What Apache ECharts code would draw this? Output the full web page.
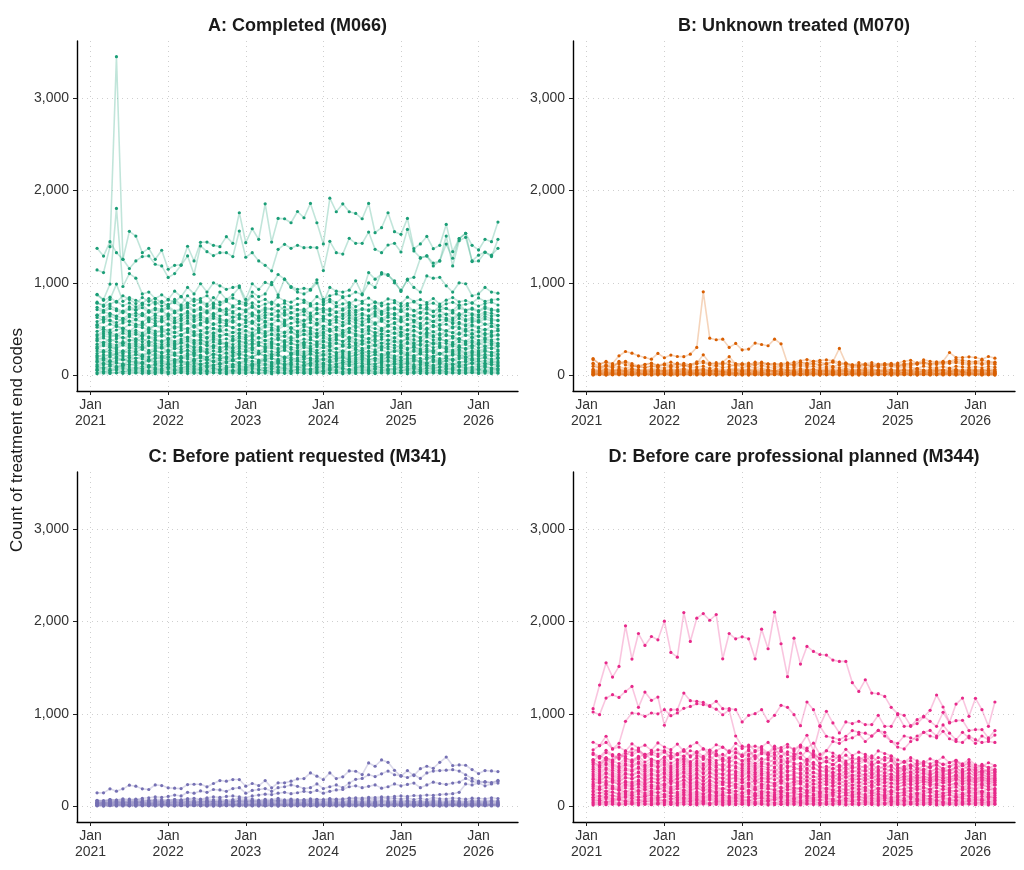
<!DOCTYPE html>
<html><head><meta charset="utf-8">
<script src="https://cdn.jsdelivr.net/npm/echarts@6/dist/echarts.min.js"></script>
<style>html,body{margin:0;padding:0;background:#fff}#c{width:1024px;height:870px}</style>
</head><body><div id="c"></div>
<script>
// ---- categories / ticks ----
const FIRST_MONTH = '2021-02';
const N_MONTHS = 63;
const X_TICKS = [0, 12, 24, 36, 48, 60];               // months since Jan 2021
const X_TICK_LABELS = ['Jan\n2021', 'Jan\n2022', 'Jan\n2023', 'Jan\n2024', 'Jan\n2025', 'Jan\n2026'];
const Y_TICKS = [0, 1000, 2000, 3000];
const PANEL_TITLES = ['A: Completed (M066)', 'B: Unknown treated (M070)', 'C: Before patient requested (M341)', 'D: Before care professional planned (M344)'];
const PANEL_COLORS = ['#1B9E77', '#D95F02', '#7570B3', '#E7298A'];
const Y_TITLE = 'Count of treatment end codes';

// ---- Panel A: Completed (M066) ----
const A_top1 = [1374,1290,1446,1327,1255,1558,1507,1327,1374,1255,1353, 1147,1190,1195,1396,1237,1439,1442,1406,1392,1500,1428,1759, 1435,1586,1471,1856,1442,1698,1694,1651,1773,1705,1860,1651, 1421,1917,1770,1856,1770,1752,1694,1860,1543,1597,1759,1554, 1525,1698,1370,1421,1503,1370,1406,1633,1338,1478,1536,1406, 1356,1471,1446,1658];
const A_top2 = [1140,1111,1392,3450,1255,1155,1237,1284,1291,1201,1183, 1058,1100,1190,1291,1093,1400,1338,1295,1327,1327,1284,1561, 1277,1327,1237,1190,1130,1363,1417,1374,1406,1381,1385,1381, 1133,1450,1327,1312,1482,1428,1428,1550,1363,1327,1410,1428, 1334,1579,1345,1273,1291,1183,1237,1507,1183,1456,1493,1237, 1300,1334,1284,1471];
const A_top3 = [874,820,986,1806,960,1100,1050,880,900,830,870, 820,910,850,950,880,990,900,1000,968,930,950,968, 820,990,930,1004,980,1090,1040,960,930,940,930,1032, 788,950,910,900,920,1022,880,1111,1040,1095,1080,1022, 906,1040,1060,1266,1291,1215,1237,1420,1266,1478,1536,1230, 1237,1330,1300,1374];
const A_top4 = [780,760,820,986,800,840,810,780,830,770,800, 750,820,760,860,800,830,860,780,900,820,870,950, 780,900,850,880,1004,870,1040,950,900,880,920,1000, 820,860,880,850,860,900,870,1000,950,1110,1090,1000, 920,1030,950,900,1075,1050,1060,968,900,1000,990,860, 880,950,900,888];
const A_b01 = [15,22,18,25,20,17,23,19,21,16,24, 14,20,26,18,22,19,17,25,21,15,23,20, 18,27,19,22,16,24,20,18,25,21,17,23, 19,20,26,15,22,18,24,20,17,23,21,19, 25,16,22,20,18,24,21,17,23,19,20,26, 18,22,17,21];
const A_b02 = [52,40,47,55,38,49,44,50,41,46,53, 39,48,45,57,42,51,40,47,54,43,49,46, 55,41,48,52,39,46,50,44,57,40,49,45, 42,53,47,40,56,44,49,51,38,47,52,45, 48,55,41,46,50,43,57,40,48,53,44,47, 51,42,46,54];
const A_b03 = [70,81,66,77,88,64,79,72,85,68,74, 83,65,76,90,71,67,82,75,63,78,86,69, 73,87,62,80,71,84,66,77,89,70,64,81, 76,68,85,72,63,79,88,67,74,82,70,65, 86,73,78,64,80,69,84,75,66,87,71,77, 63,82,74,68];
const A_b04 = [98,112,120,95,108,117,101,125,93,110,104, 118,96,107,123,100,114,92,109,121,99,113,105, 94,119,106,111,97,126,103,115,91,108,122,100, 116,102,95,113,124,98,107,119,93,110,105,117, 101,123,96,112,108,92,120,104,115,99,111,125, 97,109,118,103];
const A_b05 = [142,128,150,133,121,147,138,126,155,131,144, 124,139,152,130,145,120,136,149,127,141,158,132, 146,123,137,154,129,143,119,140,151,134,125,148, 131,156,122,138,145,127,153,135,120,142,149,129, 137,124,151,140,128,146,133,157,121,139,144,130, 152,126,141,136];
const A_b06 = [165,182,158,190,172,160,185,176,153,179,194, 168,150,187,174,162,196,170,155,183,177,161,189, 173,192,157,166,184,152,178,191,164,171,186,159, 180,163,175,197,154,169,188,167,181,156,193,172, 160,185,176,151,190,171,162,183,158,178,195,166, 174,187,155,180];
const A_b07 = [212,195,228,201,218,190,224,207,197,232,210, 199,221,187,215,230,204,193,226,211,189,219,236, 206,194,229,213,200,223,188,217,234,202,225,196, 214,231,198,209,186,227,216,203,222,191,235,208, 197,220,212,233,190,205,228,199,217,241,195,211, 224,203,218,192];
const A_b08 = [233,258,245,226,262,239,251,221,248,266,236, 254,229,243,270,231,257,246,224,260,238,249,227, 265,242,232,255,220,247,268,237,250,228,259,244, 222,264,240,253,230,246,269,234,256,225,241,261, 248,223,258,236,267,243,229,252,238,263,226,249, 235,257,244,230];
const A_b09 = [288,265,301,274,259,295,282,310,268,286,299, 262,291,278,305,270,284,257,297,280,312,266,289, 276,303,261,287,294,271,308,279,264,298,285,269, 300,275,290,258,306,281,267,296,273,309,284,263, 292,277,302,268,288,256,299,283,271,304,279,293, 266,286,297,275];
const A_b10 = [310,338,325,302,346,318,331,299,341,322,308, 335,314,350,327,305,339,320,312,344,329,300,336, 316,345,323,309,337,328,303,348,319,332,311,340, 326,306,343,321,334,298,347,315,330,310,339,324, 301,342,318,336,313,349,327,305,338,320,333,308, 344,317,329,312];
const A_b11 = [372,350,389,361,344,380,367,395,352,376,358, 384,346,370,392,355,378,349,386,364,341,381,369, 357,390,347,374,362,398,351,377,366,343,387,359, 372,348,383,365,394,353,371,356,389,345,379,368, 360,391,349,375,363,342,386,370,354,396,358,373, 350,382,367,346];
const A_b12 = [398,425,412,437,401,420,392,431,415,406,440, 395,418,428,404,436,411,399,427,416,442,393,422, 409,434,400,419,438,405,426,397,414,445,408,421, 430,396,417,439,403,424,410,391,433,412,427,402, 441,407,423,398,435,414,400,429,418,393,437,409, 425,404,419,432];
const A_b13 = [440,471,458,436,482,449,462,430,475,453,488, 445,466,437,479,460,432,470,451,484,441,463,455, 478,434,468,450,487,443,459,472,438,481,454,446, 467,490,435,457,474,448,429,483,461,442,476,452, 464,439,485,456,447,470,433,478,459,444,489,450, 473,437,462,480];
const A_b14 = [520,497,488,531,509,476,524,515,492,538,503, 486,527,511,499,534,480,518,506,494,540,512,489, 529,501,483,522,516,495,537,507,478,525,513,491, 532,498,519,485,508,536,493,521,504,482,530,514, 500,487,526,510,494,539,505,481,523,517,496,533, 509,488,528,502];
const A_b15 = [548,575,590,541,566,583,552,537,579,561,595, 544,570,556,588,535,563,581,549,572,558,592,540, 567,585,546,574,553,596,538,562,580,550,569,543, 587,557,573,539,591,564,547,578,555,584,542,568, 589,551,576,536,565,582,548,593,559,571,545,577, 586,552,563,540];
const A_b16 = [625,598,640,612,587,633,605,650,595,620,608, 636,590,615,645,602,628,593,638,610,584,630,618, 600,642,589,624,611,652,596,621,607,586,639,604, 617,592,634,613,648,599,616,603,641,588,627,614, 606,644,591,623,609,583,637,619,597,651,601,622, 594,635,612,589];
const A_b17 = [650,682,668,640,695,657,671,645,688,662,700, 648,676,655,690,642,669,684,651,698,660,673,646, 686,658,641,680,665,697,650,674,659,692,644,670, 683,649,678,661,699,654,667,643,689,657,675,652, 694,663,646,681,668,640,696,659,672,648,687,664, 653,684,670,645];
const A_b18 = [735,702,748,718,690,740,711,760,698,725,712, 745,695,720,755,705,733,697,750,714,688,738,722, 706,752,693,729,716,762,700,727,713,691,749,708, 724,696,741,719,758,703,721,707,747,692,731,717, 710,754,695,728,714,687,744,723,701,761,705,726, 698,742,716,692];
const A_b19 = [870,810,845,790,860,820,775,840,800,830,785, 815,795,850,780,825,805,770,840,790,810,835,800, 780,855,795,820,770,845,805,790,830,812,776,850, 798,820,785,840,772,815,800,835,790,780,826,808, 775,845,800,818,786,830,770,812,840,795,808,782, 836,800,815,822];
const A_c01 = [28,35,31,26,38,33,29,36,24,32,37, 30,27,34,39,25,31,36,28,33,26,38,30, 35,29,24,33,37,31,27,36,32,25,34,30, 38,28,33,26,35,31,29,37,24,32,36,27, 30,34,25,38,31,28,35,33,26,37,29,32, 27,36,31,34];
const A_c02 = [58,66,53,62,70,55,61,68,50,64,59, 67,52,60,71,57,63,54,69,58,65,51,62, 56,68,61,49,66,59,72,54,63,57,67,60, 52,65,58,70,55,62,68,51,64,57,61,69, 53,60,66,56,71,58,50,63,67,55,62,59, 65,54,61,68];
const A_c03 = [92,80,97,85,103,88,78,95,90,82,100, 86,94,79,98,91,84,105,87,93,81,96,89, 83,101,88,77,94,92,86,99,80,90,104,85, 97,82,91,88,102,79,95,87,93,84,98,90, 81,96,89,85,103,78,92,94,86,100,83,91, 88,97,80,95];
const A_c04 = [115,126,109,131,120,112,124,134,106,119,128, 113,122,137,110,125,117,130,108,121,133,114,127, 118,105,129,123,111,135,116,124,120,107,132,119, 126,112,118,136,109,123,129,115,121,131,110,125, 117,134,113,120,127,108,130,122,116,124,111,133, 119,128,114,121];
const A_c05 = [148,160,141,155,168,145,152,139,163,150,157, 143,166,149,138,158,153,170,144,161,147,155,136, 162,151,145,169,140,156,148,164,152,142,159,146, 167,139,154,160,143,150,171,147,158,141,163,149, 156,144,165,152,137,160,146,155,168,142,151,162, 148,157,140,153];
const A_c06 = [185,172,196,178,164,190,182,199,170,187,176, 193,167,181,198,174,186,165,192,179,200,171,184, 177,195,163,188,180,173,197,169,185,191,175,182, 166,194,179,187,172,189,201,168,183,176,196,174, 188,165,192,181,170,197,178,186,173,199,167,184, 180,191,175,186];
const A_c07 = [200,220,208,232,196,215,224,205,238,211,199, 226,214,203,235,209,218,194,229,212,240,202,221, 216,198,233,207,225,213,190,230,219,204,236,210, 223,197,217,231,206,214,242,201,227,209,219,195, 234,212,203,228,218,199,237,208,222,214,196,231, 205,226,211,220];
const A_c08 = [262,245,270,251,238,266,257,279,242,260,249, 273,240,255,268,247,276,236,263,252,281,244,259, 250,274,239,265,256,246,282,241,261,253,271,237, 258,269,243,264,250,277,238,260,248,272,245,257, 266,240,275,253,247,269,235,261,256,280,242,263, 251,268,246,259];
const A_c09 = [295,318,304,287,325,299,312,283,320,306,292, 315,288,309,327,296,303,281,322,300,314,290,311, 305,284,323,297,316,289,330,302,294,319,286,308, 298,321,285,313,301,326,290,307,317,282,310,295, 320,293,306,284,328,299,312,288,315,303,291,324, 297,309,286,318];
const A_c10 = [335,356,342,326,362,338,350,330,365,345,332, 358,328,347,368,336,353,322,360,340,349,331,363, 344,327,359,337,352,333,370,341,329,355,346,324, 361,338,351,330,366,343,334,357,325,348,339,364, 332,354,341,323,367,336,350,345,328,362,340,353, 331,358,344,337];
const A_c11 = [380,402,368,395,410,375,389,362,404,383,371, 398,366,391,412,378,386,360,407,381,393,370,400, 387,364,409,376,396,382,372,414,369,390,384,361, 403,377,392,367,411,385,374,399,363,388,379,406, 371,397,384,365,413,380,392,373,401,386,368,408, 376,394,383,390];
const A_c12 = [425,448,437,415,455,430,442,418,460,433,421, 450,412,438,463,427,445,409,458,431,440,420,452, 436,414,461,426,447,432,419,465,424,439,444,411, 456,429,441,416,462,435,423,451,413,446,428,459, 422,443,434,410,464,427,449,438,417,457,430,444, 420,453,433,440];
const A_c13 = [475,498,463,489,505,470,484,456,501,478,466, 493,459,486,508,472,481,455,503,476,490,462,497, 483,458,506,471,494,479,465,510,467,487,480,452, 500,474,488,461,507,482,468,495,457,485,473,502, 464,492,477,454,509,470,491,481,460,504,475,489, 466,497,478,484];
const A_c14 = [540,515,552,528,507,546,533,560,512,538,524, 555,509,536,562,520,544,505,558,530,541,517,550, 527,563,510,539,548,522,565,514,535,543,506,557, 529,549,518,534,561,513,542,526,553,508,537,559, 519,545,531,504,564,525,540,551,511,556,532,546, 521,553,530,538];
const A_c15 = [580,605,596,570,612,585,598,575,618,590,578, 608,565,593,620,582,600,568,615,588,597,574,610, 592,567,617,584,603,589,576,622,571,595,601,563, 613,586,599,572,619,591,579,607,566,602,583,616, 577,604,594,562,621,581,598,606,570,614,587,600, 573,609,590,596];
const A_c16 = [650,625,662,638,615,655,642,670,620,648,632, 665,618,645,672,630,652,612,668,640,657,628,660, 636,675,622,649,658,633,678,617,646,654,613,667, 639,659,626,644,673,621,651,637,664,614,647,669, 629,656,641,611,676,634,650,661,619,666,643,654, 627,663,640,648];
const A_c17 = [710,685,722,698,676,715,702,730,680,708,692, 725,678,705,732,690,712,673,728,700,717,688,720, 696,735,682,709,718,693,738,677,706,714,672,727, 699,719,686,704,733,681,711,697,724,674,707,729, 689,716,701,671,736,694,710,721,679,726,703,714, 687,723,700,708];
const A_c18 = [790,745,770,800,752,782,740,775,760,795,748, 768,785,742,778,756,790,746,772,762,798,750,776, 758,784,744,770,792,752,780,741,766,788,755,774, 762,796,748,772,786,743,778,759,790,751,769,784, 745,775,793,757,766,780,742,773,789,754,768,781, 748,776,790,760];

// ---- Panel B: Unknown treated (M070) ----
const B_top1 = [180,119,148,126,209,256,238,209,191,173,235, 188,217,202,200,227,300,902,400,383,390,300,343, 274,282,347,332,318,390,339,126,140,155,168,150, 160,165,155,140,120,100,135,110,90,120,125,110, 130,150,160,130,165,150,145,150,245,191,191,198, 191,173,202,184];
const B_top2 = [120,70,95,80,150,110,105,90,85,100,95, 110,90,120,105,115,130,220,130,120,140,200,120, 125,110,140,130,120,125,110,105,120,140,130,150, 140,125,145,289,130,110,105,120,95,100,110,105, 100,115,130,120,140,125,135,140,150,170,160,150, 145,160,150,140];
const B_b1 = [2,4,1,3,5,2,3,1,4,2,3, 5,2,1,3,4,2,3,5,1,2,4,3, 2,1,4,3,2,5,3,1,2,4,3,2, 1,3,5,2,4,2,1,3,2,4,3,1, 2,4,3,1,5,2,3,2,4,1,3,2, 4,2,3,1];
const B_b2 = [9,12,8,11,14,10,7,13,9,11,15, 8,10,12,9,14,11,7,13,10,8,12,16, 10,9,13,11,8,12,14,9,10,7,13,11, 12,8,10,15,9,11,13,8,10,12,9,14, 11,7,12,10,13,9,11,8,14,10,12,9, 13,10,8,11];
const B_b3 = [22,17,25,19,21,15,24,20,18,26,21, 19,23,16,22,27,18,20,24,17,21,25,19, 23,18,20,26,15,22,19,24,21,17,25,20, 18,23,21,16,24,20,22,19,26,17,21,23, 20,25,18,22,16,24,21,19,23,17,26,20, 22,18,24,21];
const B_b4 = [35,28,40,30,33,26,38,31,29,42,34, 27,36,32,39,30,25,37,33,41,28,35,31, 38,29,34,27,40,32,36,30,26,39,33,35, 31,37,28,34,41,30,33,27,36,32,38,29, 35,31,26,37,33,30,40,28,34,36,29,32, 38,31,35,28];
const B_b5 = [48,40,55,44,51,38,57,46,42,53,49, 41,50,45,58,39,47,54,43,52,37,49,56, 44,51,40,48,55,42,46,53,39,50,45,57, 43,49,41,54,46,38,52,47,44,56,40,50, 45,53,42,48,39,51,46,55,43,49,41,52, 47,44,50,42];
const B_b6 = [65,55,72,58,68,52,75,61,57,70,63, 54,66,60,74,56,62,69,53,71,59,64,76, 58,67,55,73,61,50,68,63,57,72,60,66, 54,70,62,58,75,56,64,60,69,52,67,61, 57,65,59,72,54,63,68,56,71,60,58,66, 62,55,69,60];
const B_b7 = [95,78,105,85,90,72,100,88,80,96,84, 76,92,86,110,79,88,97,74,102,83,90,115, 81,94,77,98,87,71,93,85,80,99,88,95, 76,91,84,79,98,82,87,75,93,86,80,96, 78,90,83,74,97,85,81,92,77,95,88,84, 90,79,94,86];
const B_b8 = [170,120,140,110,135,150,125,100,118,130,108, 122,140,115,128,110,145,150,120,135,112,148,125, 118,130,105,140,122,115,126,132,110,138,120,128, 115,125,140,118,130,112,108,122,135,115,120,128, 110,125,118,132,140,120,128,135,142,150,138,130, 145,128,140,132];
const B_c1 = [5,7,4,8,6,3,7,5,9,4,6, 8,5,3,7,6,9,4,6,8,5,7,3, 6,8,4,7,5,9,6,3,7,5,8,4, 6,9,5,3,7,6,8,4,5,7,6,9, 3,6,8,5,7,4,6,9,5,7,3,8, 6,5,7,4];
const B_c2 = [14,17,12,16,19,13,15,18,11,16,14, 18,13,15,20,12,17,14,16,19,13,15,17, 12,18,14,16,13,19,15,11,17,14,16,18, 13,15,19,12,17,14,16,13,18,15,12,17, 14,19,13,16,15,12,18,14,17,13,16,19, 15,13,17,14];
const B_c3 = [25,29,22,27,31,24,26,30,21,28,25, 30,23,27,32,24,29,22,28,26,31,23,27, 25,30,22,28,26,33,24,27,29,21,30,25, 28,24,31,26,23,29,27,32,22,28,25,30, 24,27,31,23,29,26,22,30,25,28,32,24, 27,29,23,26];
const B_c4 = [38,44,35,41,47,36,40,45,33,42,39, 46,34,40,48,37,43,35,45,39,41,36,47, 38,44,33,42,40,49,36,43,38,34,46,41, 37,45,39,35,48,40,42,36,44,38,47,34, 41,39,46,37,43,35,49,40,38,45,42,36, 44,39,47,40];
const B_c5 = [55,48,60,50,57,46,62,53,49,58,51, 47,56,52,63,48,54,59,50,57,45,55,61, 51,58,47,56,53,44,60,52,49,57,54,62, 48,55,50,46,61,53,57,51,59,47,54,58, 50,56,49,63,52,48,58,54,51,60,46,55, 53,59,50,56];
const B_c6 = [130,95,110,100,120,140,105,90,112,125,98, 118,108,130,102,96,122,135,110,104,128,115,100, 112,95,124,106,118,92,110,126,100,114,108,120, 102,118,96,110,124,98,92,106,115,100,108,118, 95,108,102,120,125,110,115,122,128,135,120,112, 128,115,122,118];

// ---- Panel C: Before patient requested (M341) ----
const C_top1 = [144,144,187,162,187,227,216,187,180,230,223, 198,194,190,234,237,237,209,245,277,270,288,288, 216,245,223,277,198,252,252,270,295,299,360,324, 288,360,299,317,381,378,342,468,432,500,475,388, 324,385,331,406,432,410,475,532,439,446,443,396, 353,385,381,374];
const C_top2 = [60,55,70,65,80,75,70,85,90,100,95, 105,120,110,150,140,165,150,180,175,160,190,200, 140,170,180,190,160,200,210,230,215,190,200,240, 190,210,230,200,250,290,300,340,320,350,380,340, 330,310,340,300,360,380,385,390,395,380,340,300, 270,260,250,280];
const C_top3 = [40,35,45,50,42,55,48,52,60,58,50, 62,70,65,80,85,75,90,100,95,105,110,100, 90,110,120,130,125,140,150,135,145,160,150,170, 140,160,175,180,210,220,200,215,230,195,210,240, 220,235,250,200,230,260,245,235,250,260,300,270, 250,220,240,250];
const C_top4 = [30,35,28,40,32,38,35,42,30,36,40, 38,45,40,48,42,50,46,52,48,55,50,58, 52,60,55,62,58,65,60,68,62,70,66,72, 68,75,70,80,85,90,88,95,92,100,98,105, 110,105,115,112,120,118,125,130,135,150,240,230, 250,265,255,270];
const C_b1 = [3,1,4,2,2,5,1,3,4,2,1, 3,2,5,1,4,3,2,1,3,4,2,5, 1,3,2,4,3,1,5,2,3,2,4,1, 3,5,2,1,4,2,3,3,1,4,2,5, 3,1,2,4,3,5,1,2,4,3,2,1, 3,4,2,3];
const C_b2 = [8,11,7,10,13,9,12,8,10,14,9, 11,7,12,10,9,13,8,11,10,12,7,14, 9,10,12,8,13,11,9,10,7,12,11,8, 13,10,9,12,8,11,14,9,10,7,12,11, 10,8,13,9,11,12,7,10,14,9,11,8, 12,10,9,11];
const C_b3 = [17,14,20,15,18,13,21,16,19,15,22, 14,18,17,20,13,19,16,21,15,18,14,20, 17,16,19,13,22,15,18,17,14,20,16,19, 15,21,18,14,19,16,17,20,13,18,15,21, 16,19,14,18,17,20,15,13,21,17,16,19, 18,15,20,17];
const C_b4 = [28,22,30,25,27,21,32,26,24,29,23, 27,25,31,22,28,26,24,33,25,29,21,30, 26,23,28,31,24,27,25,22,30,26,29,24, 27,32,25,23,29,26,28,24,31,22,27,30, 25,28,23,29,26,33,24,27,25,30,22,28, 26,29,24,27];
const C_b5 = [40,35,45,38,42,33,47,39,36,44,41, 37,43,39,48,35,41,46,38,44,34,42,49, 39,45,36,43,40,50,37,44,41,35,47,42, 38,46,40,36,48,43,39,45,37,51,41,44, 40,47,38,43,36,49,42,39,46,41,37,45, 43,40,47,42];
const C_b6 = [58,50,64,53,60,48,66,55,52,62,57, 51,60,56,68,49,58,63,54,61,47,59,65, 55,62,50,59,57,67,52,61,56,49,64,58, 53,63,57,51,66,60,55,62,52,70,58,61, 56,64,53,60,50,68,59,55,63,57,52,62, 60,56,65,58];
const C_b7 = [62,60,72,66,70,64,75,68,65,74,70, 66,72,69,80,63,70,78,68,76,62,72,82, 70,77,64,74,71,85,67,76,72,65,80,74, 70,82,75,68,86,78,74,81,70,90,79,84, 76,88,72,85,70,92,80,76,88,82,75,86, 84,78,90,82];
const C_c1 = [6,4,7,5,8,3,6,7,5,4,8, 6,5,7,3,8,6,4,7,5,6,8,4, 7,5,6,3,8,5,7,4,6,8,5,3, 7,6,4,8,5,7,6,3,5,8,4,6, 7,5,3,8,6,4,7,5,8,6,4,7, 5,6,8,4];
const C_c2 = [12,15,11,14,16,10,13,15,12,11,14, 16,12,13,10,15,14,11,16,13,12,15,11, 14,13,16,10,12,15,13,11,14,16,12,13, 15,11,14,12,16,13,10,15,12,14,11,16, 13,12,15,11,14,16,10,13,15,12,14,11, 16,13,12,14];
const C_c3 = [22,18,24,20,23,17,25,21,19,23,20, 18,22,21,25,17,23,20,24,19,22,18,26, 21,24,18,22,20,27,19,23,21,17,25,22, 20,24,19,21,26,18,23,22,25,17,21,24, 20,23,18,22,19,26,21,20,24,18,23,22, 25,19,23,21];
const C_c4 = [33,28,36,31,34,27,38,32,29,35,30, 28,34,31,37,27,33,36,30,35,26,32,38, 31,36,28,34,32,39,29,35,31,27,37,33, 30,36,32,28,38,33,31,35,29,40,32,34, 31,36,29,33,28,38,32,30,35,31,29,34, 33,31,36,32];
const C_c5 = [47,42,52,45,49,40,54,46,43,51,47, 42,50,46,55,41,48,53,44,50,39,48,56, 45,51,42,49,46,57,43,50,47,41,53,48, 44,52,46,42,55,49,45,51,43,58,47,50, 46,53,43,49,41,56,48,45,52,47,43,51, 49,46,53,48];

// ---- Panel D: Before care professional planned (M344) ----
const D_top1 = [1056,1312,1553,1398,1514,1953,1593,1870,1741,1838,1802, 2004,1665,1614,2097,1784,2036,2086,2014,2076,1596,1870,1813, 1834,1813,1596,1917,1705,2101,1759,1402,1820,1539,1730,1676, 1643,1636,1582,1568,1568,1337,1243,1369,1225,1218,1189,1070, 1002,984,872,894,966,1038,1204,1074,908,1106,1171,973, 1168,1045,865,1128];
const D_top2 = [1020,991,1171,1207,1178,1243,1297,1070,1236,1146,1182, 876,1045,1045,1225,1142,1135,1124,1088,1135,1056,1056,1045, 912,984,1002,1045,919,984,1092,1070,991,872,1128,1045, 872,1027,901,793,912,894,919,883,883,984,865,865, 991,865,865,937,973,919,865,1016,901,926,930,818, 829,829,739,818];
const D_top3 = [692,656,757,620,680,919,1009,1000,973,1009,1000, 1045,980,1010,1060,1080,1110,1100,1080,1050,990,1040,760, 649,640,650,630,577,650,610,640,620,660,768,600, 865,757,740,720,757,818,800,790,760,820,760,700, 680,760,740,720,800,760,740,810,730,700,690,760, 720,690,700,690];
const D_top4 = [480,440,520,500,560,540,620,600,560,580,610, 600,580,560,540,600,580,620,560,600,640,580,620, 540,560,590,610,560,580,600,560,520,640,600,560, 520,600,700,680,720,740,780,700,760,820,800,700, 640,620,700,760,800,820,760,880,790,720,800,740, 680,760,720,770];
const D_b01 = [12,18,15,20,14,17,22,13,19,16,21, 15,18,12,20,17,14,22,16,19,13,18,15, 21,14,17,19,12,16,20,15,18,13,22,17, 14,19,16,21,13,18,15,20,17,12,19,16, 18,14,21,15,17,20,13,16,19,14,18,22, 15,17,13,19];
const D_b02 = [38,45,41,50,35,47,43,39,52,44,36, 48,42,37,51,45,40,46,34,49,43,38,53, 41,47,36,44,50,39,45,42,48,35,46,51, 40,37,49,43,45,52,38,44,41,47,36,50, 42,46,39,53,37,44,48,41,35,47,43,49, 40,45,38,44];
const D_b03 = [72,64,80,68,75,61,83,70,66,78,73, 62,79,71,85,67,74,60,81,69,76,64,82, 70,63,77,86,65,72,80,68,75,62,84,71, 67,78,73,61,82,69,76,64,80,70,85,66, 74,63,79,71,68,83,60,77,72,65,81,69, 75,62,78,70];
const D_b04 = [95,108,102,115,90,104,112,97,106,118,93, 101,110,96,120,99,107,91,113,103,116,94,109, 105,92,117,100,111,95,106,121,98,104,114,93, 108,99,112,96,119,102,107,90,115,101,110,97, 103,118,94,109,100,113,96,106,120,92,105,111, 98,107,102,95];
const D_b05 = [128,145,136,152,124,141,133,158,127,139,147, 122,144,135,150,130,142,126,155,138,131,149,125, 140,153,129,137,146,123,151,134,143,128,156,132, 139,125,148,136,152,130,141,127,145,133,121,150, 137,146,129,142,131,154,124,138,147,132,128,143, 135,149,126,140];
const D_b06 = [165,182,160,191,174,157,186,169,178,162,195, 171,155,188,176,163,193,168,181,158,185,172,161, 190,166,179,154,187,173,160,183,170,192,164,177, 159,184,171,167,189,156,180,174,162,186,169,158, 182,175,163,190,166,179,155,185,172,161,188,168, 176,160,183,170];
const D_b07 = [212,196,228,204,189,221,210,235,198,216,203, 225,190,214,231,201,219,193,227,208,186,223,212, 199,232,194,217,206,238,195,213,202,185,229,200, 211,192,224,207,234,197,215,203,226,189,218,209, 202,230,191,214,205,183,226,212,196,233,200,210, 192,224,206,188];
const D_b08 = [240,262,251,275,232,258,244,270,236,265,249, 228,268,247,280,239,256,233,272,250,241,264,231, 259,246,277,235,261,242,269,230,255,248,274,238, 252,236,263,245,271,229,257,243,266,234,260,249, 240,255,231,248,262,236,244,258,230,251,239,246, 232,250,241,236];
const D_b09 = [290,268,312,281,263,305,294,322,271,299,284, 310,266,292,318,276,303,270,315,288,260,307,296, 282,320,267,298,286,327,272,300,289,262,316,280, 293,265,308,287,319,274,296,281,311,264,302,290, 275,298,262,286,272,255,290,279,261,296,268,280, 258,284,272,256];
const D_b10 = [330,305,352,320,298,345,333,362,310,338,322, 350,303,330,358,314,342,307,355,326,298,347,335, 320,360,304,337,324,367,310,340,328,300,356,318, 322,296,338,315,348,302,326,310,340,292,330,318, 300,325,286,312,298,280,318,304,287,322,294,306, 282,310,298,280];
const D_b11 = [375,348,398,362,340,390,377,410,352,383,366, 395,345,372,402,356,388,350,400,370,338,392,378, 362,405,346,380,366,412,350,384,372,342,398,360, 350,325,368,342,378,330,355,338,370,322,358,345, 322,350,308,335,318,300,342,326,306,345,315,330, 300,332,318,298];
const D_b12 = [425,395,450,412,388,442,428,462,400,435,418, 448,392,424,455,405,440,398,452,420,385,445,430, 410,458,394,432,418,465,398,436,422,390,450,408, 390,362,410,382,420,370,398,378,412,360,400,386, 355,385,340,370,350,330,376,360,338,380,348,362, 328,360,345,322];
const D_b13 = [470,438,498,456,430,490,474,512,444,482,462, 495,434,470,505,448,488,440,500,466,426,492,476, 455,508,437,480,462,515,442,484,468,432,500,452, 430,400,452,422,462,408,438,416,455,398,440,425, 385,415,370,400,380,358,408,390,366,412,376,392, 352,388,372,348];
const D_b14 = [498,540,512,476,555,520,488,530,562,505,480, 528,550,495,515,470,545,522,500,560,485,518,536, 492,510,548,478,525,558,500,470,540,515,488,552, 462,490,448,500,470,438,485,505,452,478,440,495, 420,398,445,415,392,430,450,405,388,425,440,400, 385,365,402,378];
const D_b15 = [575,535,605,558,525,595,578,620,540,585,565, 600,530,570,612,545,592,538,608,568,520,598,580, 555,615,534,585,562,625,540,588,570,528,606,552, 515,480,540,505,552,488,525,498,545,476,528,510, 450,485,430,465,445,418,475,455,428,480,438,456, 400,438,420,395];
const D_b16 = [610,655,690,620,640,598,675,630,660,605,685, 640,612,672,595,650,688,620,605,665,638,590,680, 625,660,602,645,690,615,635,670,598,655,628,682, 560,600,575,530,615,548,585,560,520,598,570,545, 500,478,525,490,465,512,485,530,470,495,458,505, 448,430,470,440];
const D_c01 = [25,32,28,35,22,30,27,34,29,24,31, 33,26,30,36,23,28,32,27,35,25,29,31, 24,34,28,30,26,33,22,31,29,35,27,30, 32,25,28,34,23,30,27,33,29,26,31,35, 28,24,32,30,27,36,25,29,33,28,31,26, 30,34,27,29];
const D_c02 = [55,63,50,60,67,53,58,65,48,61,57, 64,51,59,68,54,62,49,66,56,60,52,63, 57,65,50,61,58,69,53,62,55,47,64,59, 66,52,60,57,63,54,68,50,61,58,65,53, 59,62,49,67,56,60,64,51,58,63,55,61, 57,66,52,60];
const D_c03 = [90,82,97,86,79,94,88,101,83,92,87, 99,80,91,96,84,89,78,98,85,93,81,95, 87,100,83,90,86,78,97,92,84,89,102,81, 94,88,79,96,85,91,99,82,90,87,95,80, 93,86,98,84,89,77,97,91,83,100,88,85, 92,81,96,89];
const D_c04 = [120,110,128,115,105,124,118,132,108,122,113, 127,106,119,131,112,125,104,129,116,121,109,126, 114,133,107,123,117,111,130,103,120,126,110,118, 124,112,129,106,121,115,132,109,117,125,111,128, 113,122,105,130,118,108,127,116,123,110,126,114, 120,131,107,119];
const D_c05 = [155,142,163,149,138,160,151,168,145,157,147, 165,140,153,170,144,159,137,166,150,156,143,162, 148,171,139,158,152,146,169,141,154,161,136,164, 149,157,144,167,140,155,150,163,138,159,146,170, 143,152,165,139,158,148,162,145,154,168,141,156, 150,160,144,153];
const D_c06 = [192,178,200,185,172,196,188,205,180,194,183, 202,175,190,207,181,197,170,204,186,193,177,199, 184,209,174,195,189,179,206,176,191,198,171,201, 187,194,180,203,173,192,185,200,169,196,182,208, 178,190,202,175,197,184,199,181,191,205,176,193, 186,198,179,189];
const D_c07 = [230,212,241,220,206,236,226,248,215,233,219, 244,209,228,251,217,238,204,246,223,232,211,240, 218,253,208,235,227,214,249,210,231,239,205,243, 224,234,213,245,207,229,222,242,203,237,216,250, 212,228,241,209,236,220,240,215,230,247,208,233, 221,238,214,227];
const D_c08 = [265,248,276,256,240,270,261,284,250,268,254, 280,243,262,287,251,273,238,282,258,267,246,275, 253,289,242,270,263,249,285,244,266,274,239,279, 259,269,247,281,241,264,257,278,237,272,251,286, 246,262,276,243,270,255,275,250,265,282,242,268, 256,273,248,262];
const D_c09 = [305,285,318,296,278,312,301,325,289,308,293, 320,281,302,328,290,314,276,323,298,307,284,316, 292,330,280,310,303,287,326,282,306,315,277,321, 290,300,280,310,272,296,288,305,268,299,283,312, 272,286,298,266,292,279,296,274,288,303,267,290, 276,293,270,284];
const D_c10 = [350,326,364,340,318,357,345,372,330,354,336, 367,322,347,375,332,360,315,370,342,352,327,362, 337,378,320,356,348,330,374,323,351,361,316,368, 330,340,318,352,310,336,326,346,305,340,322,350, 300,318,330,296,322,308,326,302,316,334,295,320, 298,314,292,306];
const D_c11 = [400,372,415,388,365,408,395,425,378,402,384, 418,368,396,428,380,410,362,422,390,401,373,412, 385,430,366,405,397,377,426,370,399,411,363,420, 372,385,360,398,352,380,368,392,346,384,362,396, 335,355,368,328,360,342,364,336,352,372,330,356, 326,345,318,338];
const D_c12 = [450,420,468,437,412,460,446,478,425,455,432, 472,414,448,482,428,463,408,476,440,452,420,466, 434,485,412,458,448,424,480,416,451,464,409,474, 418,430,402,444,395,424,410,438,388,428,404,442, 372,395,410,366,400,380,404,374,392,414,366,396, 355,378,348,366];
const D_c13 = [505,472,526,490,462,516,500,538,478,510,486, 530,466,503,542,482,520,458,535,494,507,472,523, 488,545,464,514,502,476,540,468,506,521,460,533, 465,480,450,495,442,472,458,488,434,478,452,492, 408,432,448,400,438,415,442,408,428,452,398,432, 382,410,376,396];
const D_c14 = [560,520,580,542,510,570,552,592,528,563,538, 585,514,556,597,532,575,506,590,546,560,522,578, 540,600,512,568,554,526,594,516,558,574,508,588, 512,528,496,544,488,520,505,536,480,526,498,540, 450,476,492,442,482,458,486,450,472,496,440,476, 420,452,415,436];

const PANEL_SERIES = [
  [A_b01,A_c01,A_b02,A_c02,A_b03,A_c03,A_b04,A_c04,A_b05,A_c05,A_b06,A_c06,A_b07,A_c07,A_b08,A_c08,A_b09,A_c09,A_b10,A_c10,
   A_b11,A_c11,A_b12,A_c12,A_b13,A_c13,A_b14,A_c14,A_b15,A_c15,A_b16,A_c16,A_b17,A_c17,A_b18,A_c18,A_b19,A_top4,A_top3,A_top2,A_top1],
  [B_b1,B_c1,B_b2,B_c2,B_b3,B_c3,B_b4,B_c4,B_b5,B_c5,B_b6,B_b7,B_c6,B_b8,B_top2,B_top1],
  [C_b1,C_c1,C_b2,C_c2,C_b3,C_c3,C_b4,C_c4,C_b5,C_c5,C_b6,C_b7,C_top4,C_top3,C_top2,C_top1],
  [D_b01,D_c01,D_b02,D_c02,D_b03,D_c03,D_b04,D_c04,D_b05,D_c05,D_b06,D_c06,D_b07,D_c07,D_b08,D_c08,D_b09,D_c09,D_b10,D_c10,
   D_b11,D_c11,D_b12,D_c12,D_b13,D_c13,D_b14,D_c14,D_b15,D_b16,D_top4,D_top3,D_top2,D_top1]
];

// month positions (months since Jan 2021)
const [fy, fm] = FIRST_MONTH.split('-').map(Number);
const MONTH_X = [];
for (let i = 0; i < N_MONTHS; i++) MONTH_X.push((fy - 2021) * 12 + (fm - 1) + i);

const X_MIN = -2.1, X_MAX = 66.1, Y_MIN = -172, Y_MAX = 3620;
const GRIDS = [
  {left: 77, top: 41, width: 441, height: 350},
  {left: 573, top: 41, width: 442, height: 350},
  {left: 77, top: 472, width: 441, height: 350},
  {left: 573, top: 472, width: 442, height: 350}
];
const FONT = 'Liberation Sans, Arial, sans-serif';

function hexA(hex, a) {
  const n = parseInt(hex.slice(1), 16);
  return `rgba(${(n>>16)&255},${(n>>8)&255},${n&255},${a})`;
}

const xAxes = [], yAxes = [], series = [], graphics = [];
GRIDS.forEach((g, i) => {
  xAxes.push({
    type: 'value', gridIndex: i, min: X_MIN, max: X_MAX,
    axisLine: {show: true, onZero: false, lineStyle: {color: '#000', width: 1.4}},
    axisTick: {show: true, customValues: X_TICKS, length: 4, lineStyle: {color: '#222', width: 1}},
    axisLabel: {show: true, customValues: X_TICKS, formatter: v => X_TICK_LABELS[X_TICKS.indexOf(Math.round(v))] || '',
      color: '#333', fontSize: 14, lineHeight: 16, margin: 6, fontFamily: FONT},
    splitLine: {show: true, lineStyle: {color: '#cfcfcf', width: 1, type: [1, 4]}}
  });
  yAxes.push({
    type: 'value', gridIndex: i, min: Y_MIN, max: Y_MAX,
    axisLine: {show: true, onZero: false, lineStyle: {color: '#000', width: 1.4}},
    axisTick: {show: true, customValues: Y_TICKS, length: 4, lineStyle: {color: '#222', width: 1}},
    axisLabel: {show: true, customValues: Y_TICKS, formatter: v => Math.round(v).toLocaleString('en-US'),
      color: '#333', fontSize: 14, margin: 8, fontFamily: FONT},
    splitLine: {show: true, lineStyle: {color: '#cfcfcf', width: 1, type: [1, 4]}}
  });
  const col = PANEL_COLORS[i];
  PANEL_SERIES[i].forEach(arr => {
    const data = arr.slice(0, N_MONTHS).map((v, k) => [MONTH_X[k], v]);
    series.push({type: 'line', xAxisIndex: i, yAxisIndex: i, data, symbol: 'none', showSymbol: false,
      lineStyle: {color: hexA(col, 0.27), width: 1.6}, silent: true, z: 2, animation: false});
  });
  PANEL_SERIES[i].forEach(arr => {
    const data = arr.slice(0, N_MONTHS).map((v, k) => [MONTH_X[k], v]);
    series.push({type: 'scatter', xAxisIndex: i, yAxisIndex: i, data, symbol: 'circle', symbolSize: 3.2,
      itemStyle: {color: col, opacity: 1}, silent: true, z: 3, animation: false});
  });
  graphics.push({type: 'text', x: g.left + g.width / 2, y: g.top - 15,
    style: {text: PANEL_TITLES[i], fill: '#1a1a1a', font: `bold 18px ${FONT}`, textAlign: 'center', textVerticalAlign: 'middle'}});
});
graphics.push({type: 'text', x: 17, y: 440, rotation: Math.PI / 2,
  style: {text: Y_TITLE, fill: '#1a1a1a', font: `17px ${FONT}`, textAlign: 'center', textVerticalAlign: 'middle'}});

const chart = echarts.init(document.getElementById('c'), null, {renderer: 'canvas'});
chart.setOption({
  animation: false,
  backgroundColor: '#fff',
  grid: GRIDS.map(g => Object.assign({containLabel: false}, g)),
  xAxis: xAxes, yAxis: yAxes, series, graphic: graphics
});
</script></body></html>
